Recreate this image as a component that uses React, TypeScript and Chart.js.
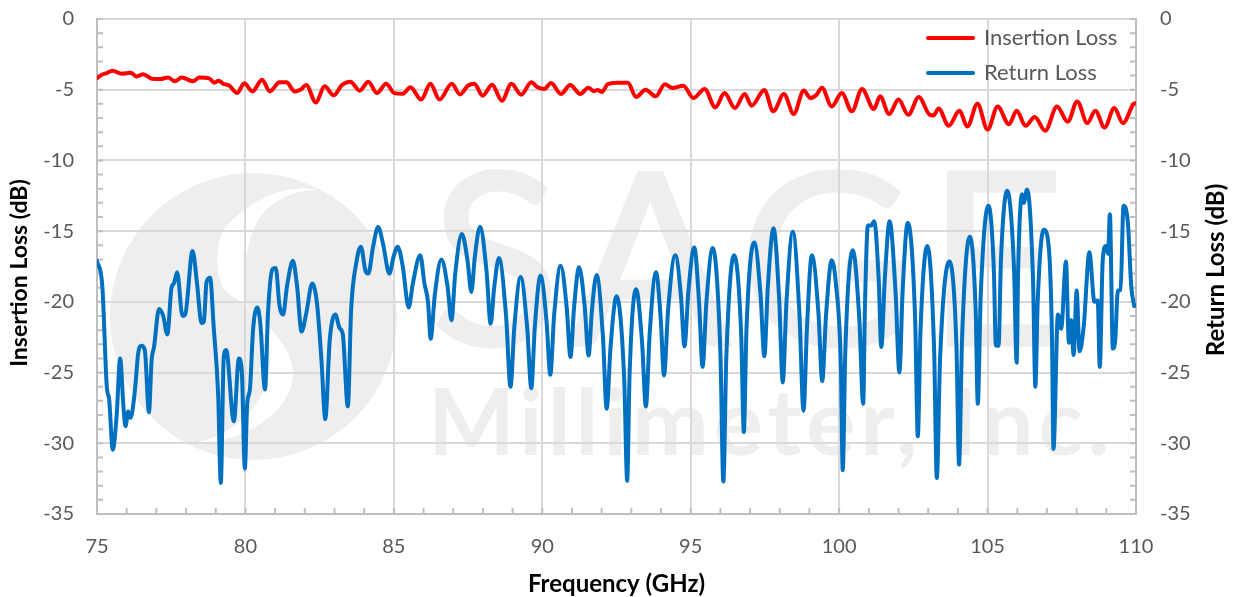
import React, { useEffect, useRef } from "react";
import { Chart, registerables } from "chart.js";

Chart.register(...registerables);

const frequencyTitle = "Frequency (GHz)";
const insertionTitle = "Insertion Loss (dB)";
const returnTitle = "Return Loss (dB)";

const insertionFreq = [
  75.0, 75.16, 75.33, 75.53, 75.83, 76.13, 76.33, 76.56, 76.84, 77.14, 77.4, 77.62, 77.85, 78.24, 78.44, 78.78, 78.95, 79.1, 79.25, 79.45,
  79.72, 79.96, 80.24, 80.56, 80.82, 81.15, 81.38, 81.66, 81.85, 82.05, 82.37, 82.67, 82.97, 83.25, 83.53, 83.85, 84.14, 84.43, 84.74, 85.02,
  85.3, 85.56, 85.92, 86.23, 86.54, 86.95, 87.23, 87.49, 87.71, 87.99, 88.31, 88.64, 88.96, 89.29, 89.63, 89.84, 90.07, 90.29, 90.63, 90.94,
  91.28, 91.55, 91.75, 91.86, 92.01, 92.2, 92.53, 92.88, 93.16, 93.48, 93.82, 94.13, 94.38, 94.75, 95.09, 95.47, 95.83, 96.14, 96.49, 96.82,
  97.05, 97.48, 97.78, 98.14, 98.47, 98.81, 99.03, 99.24, 99.42, 99.75, 100.09, 100.43, 100.77, 101.17, 101.38, 101.68, 102.0, 102.33, 102.68, 103.05,
  103.18, 103.35, 103.69, 104.05, 104.32, 104.66, 105.0, 105.34, 105.72, 105.98, 106.28, 106.59, 106.94, 107.34, 107.7, 108.02, 108.36, 108.63, 108.94, 109.27,
  109.56, 109.92, 110.0,
];
const insertionLoss = [
  -4.17, -3.94, -3.82, -3.66, -3.87, -3.8, -4.06, -3.9, -4.22, -4.25, -4.13, -4.41, -4.13, -4.41, -4.13, -4.2, -4.5, -4.36, -4.58, -4.7,
  -5.24, -4.55, -5.12, -4.29, -5.12, -4.48, -4.48, -5.12, -5.0, -4.67, -5.9, -4.76, -5.4, -4.67, -4.43, -5.07, -4.43, -5.24, -4.58, -5.24,
  -5.28, -4.83, -5.7, -4.58, -5.7, -4.58, -5.33, -4.72, -4.58, -5.42, -4.65, -5.78, -4.58, -5.35, -4.48, -4.83, -4.95, -4.53, -5.3, -4.67,
  -5.3, -4.86, -5.1, -5.02, -5.16, -4.62, -4.5, -4.5, -5.52, -5.0, -5.47, -4.62, -4.88, -4.72, -5.59, -4.95, -6.25, -5.24, -6.3, -5.3,
  -6.13, -5.02, -6.53, -5.3, -6.72, -5.05, -5.59, -5.35, -4.86, -6.18, -5.24, -6.53, -4.95, -6.37, -5.47, -6.72, -5.7, -6.77, -5.52, -6.77,
  -6.82, -6.32, -7.55, -6.49, -7.6, -5.99, -7.83, -6.18, -7.45, -6.49, -7.55, -6.93, -7.9, -6.18, -7.26, -5.83, -7.36, -6.49, -7.67, -6.3,
  -7.36, -6.01, -5.95,
];

const returnFreq = [
  75.0, 75.18, 75.33, 75.41, 75.53, 75.66, 75.78, 75.89, 75.96, 76.05, 76.13, 76.28, 76.39, 76.5, 76.61, 76.75, 76.84, 76.92, 77.09, 77.23,
  77.37, 77.51, 77.59, 77.7, 77.88, 77.97, 78.22, 78.37, 78.52, 78.6, 78.69, 78.81, 78.93, 79.08, 79.17, 79.27, 79.35, 79.61, 79.78, 79.88, 79.98,
  80.06, 80.15, 80.26, 80.4, 80.5, 80.66, 80.76, 80.91, 81.02, 81.15, 81.27, 81.4, 81.6, 81.74, 81.89, 82.05, 82.25, 82.41, 82.56, 82.69,
  82.84, 83.03, 83.17, 83.28, 83.45, 83.56, 83.73, 83.89, 84.05, 84.14, 84.3, 84.47, 84.63, 84.85, 84.99, 85.13, 85.3, 85.5, 85.64, 85.89,
  86.03, 86.15, 86.24, 86.38, 86.6,
  86.81, 86.94, 87.07, 87.29,
  87.48, 87.61, 87.73, 87.9,
  88.12, 88.26, 88.38, 88.54,
  88.78, 88.93, 89.06, 89.27,
  89.49, 89.63, 89.75, 89.94,
  90.14, 90.27, 90.4, 90.62,
  90.82, 90.95, 91.07, 91.24,
  91.43, 91.56, 91.67, 91.83,
  92.04, 92.17, 92.3, 92.5,
  92.76, 92.86, 92.94, 93.16,
  93.36, 93.49, 93.62, 93.83,
  93.99, 94.1, 94.24, 94.48,
  94.67, 94.79, 94.92, 95.12,
  95.28, 95.4, 95.53, 95.74,
  96.0, 96.1, 96.2, 96.46,
  96.7, 96.79, 96.88, 97.14,
  97.35, 97.48, 97.6, 97.79,
  97.98, 98.1, 98.23, 98.44,
  98.66, 98.8, 98.92, 99.08,
  99.3, 99.43, 99.56, 99.75, 99.89,
  100.06, 100.12, 100.21, 100.46,
  100.68, 100.81, 100.87, 100.97, 101.08, 101.18,
  101.33, 101.42, 101.54, 101.7,
  101.9, 102.03, 102.14, 102.31,
  102.56, 102.65, 102.74, 102.97,
  103.2, 103.29, 103.4, 103.71,
  103.95, 104.04, 104.14, 104.4,
  104.6, 104.67, 104.77, 105.03,
  105.21, 105.28, 105.37, 105.45, 105.66,
  105.89, 105.98, 106.03, 106.16, 106.22, 106.33,
  106.53, 106.61, 106.69, 106.89, 107.06,
  107.17, 107.22, 107.37, 107.48, 107.64, 107.74, 107.81, 107.9, 108.0,
  108.1, 108.24, 108.43, 108.6, 108.71, 108.78, 108.88, 108.99, 109.06, 109.12, 109.22, 109.3, 109.39, 109.48, 109.58, 109.73, 109.84, 109.94,
];
const returnLoss = [
  -17.1, -18.9, -26.0, -26.9, -30.45, -28.1, -24.0, -27.4, -28.8, -27.75, -28.2, -26.2, -23.6, -23.1, -23.4, -27.8, -24.1, -23.2, -20.5, -21.0,
  -22.3, -19.0, -18.7, -17.9, -21.0, -20.9, -16.4, -18.7, -21.5, -21.4, -18.6, -18.3, -21.75, -26.5, -32.8, -23.9, -23.4, -28.45, -24.0, -25.0, -31.8,
  -27.2, -26.2, -21.9, -20.4, -21.5, -26.2, -20.8, -17.7, -17.6, -20.3, -20.9, -18.9, -17.1, -18.9, -22.1, -20.8, -18.7, -20.1, -24.1, -28.3,
  -22.7, -20.9, -21.85, -22.3, -27.4, -20.6, -17.3, -16.1, -17.85, -18.0, -16.1, -14.7, -15.85, -18.0, -16.8, -16.1, -17.5, -20.4, -18.7, -16.7,
  -18.7, -20.0, -22.6, -19.5, -17.0,
  -18.93, -21.3, -17.95, -15.2,
  -17.05, -19.3, -16.77, -14.7,
  -17.78, -21.55, -18.99, -16.9,
  -21.0, -26.0, -21.74, -18.25,
  -21.78, -26.1, -21.73, -18.15,
  -21.3, -25.15, -20.92, -17.45,
  -20.35, -23.9, -20.41, -17.55,
  -20.36, -23.8, -20.67, -18.1,
  -22.35, -27.55, -23.18, -19.6,
  -25.47, -32.65, -25.2, -19.1,
  -22.83, -27.4, -22.18, -17.9,
  -21.2, -25.2, -20.53, -16.7,
  -19.55, -23.15, -19.3, -16.15,
  -20.0, -24.6, -19.98, -16.2,
  -23.6, -32.7, -23.9, -16.7,
  -22.3, -29.2, -21.83, -15.8,
  -19.43, -23.85, -18.87, -14.8,
  -19.83, -25.7, -19.84, -15.05,
  -20.74, -27.7, -21.65, -16.7,
  -20.7, -25.6, -20.9, -17.05, -18.7,
  -24.64, -31.9, -23.35, -16.35,
  -21.23, -27.2, -20.27, -14.6, -14.6, -14.3,
  -18.3, -23.2, -18.3, -14.3,
  -19.3, -25.0, -19.17, -14.4,
  -21.2, -29.5, -22.1, -16.05,
  -23.43, -32.45, -24.04, -17.15,
  -22.99, -31.5, -22.65, -15.4,
  -20.7, -27.2, -19.5, -13.2,
  -17.65, -23.1, -23.1, -17.08, -12.15,
  -17.62, -24.3, -17.75, -12.4, -13.0, -12.05,
  -18.33, -26.0, -19.9, -14.9, -16.1,
  -22.5, -30.4, -20.9, -21.9, -17.15, -22.9, -21.3, -23.75, -19.2,
  -23.5, -21.7, -16.5, -20.0, -19.9, -24.6, -17.0, -16.05, -16.6, -13.8, -23.3, -22.7, -19.2, -19.15, -13.2, -14.5, -18.9, -20.3,
];

const FONT = "Lato, Carlito, 'Open Sans', sans-serif";
const TICK = "#595959";
const AXIS = "#BFBFBF";
const GRID = "#D9D9D9";
const MARK = "#EEEEEE";

const watermark = {
  id: "watermark",
  beforeDraw(chart: any) {
    const ctx = chart.ctx;
    ctx.save();
    ctx.fillStyle = MARK;
    ctx.beginPath();
    ctx.arc(253.5, 316.5, 143.5, 0, Math.PI * 2);
    ctx.fill();
    ctx.fillStyle = "#ffffff";
    ctx.beginPath();
    ctx.moveTo(317, 190);
    ctx.bezierCurveTo(290, 183, 250, 198, 223, 230);
    ctx.bezierCurveTo(215, 250, 215, 275, 225, 290);
    ctx.bezierCurveTo(232, 297, 238, 299, 243, 303);
    ctx.bezierCurveTo(270, 325, 293, 350, 293, 373);
    ctx.bezierCurveTo(293, 410, 245, 445, 190, 443);
    ctx.bezierCurveTo(225, 440, 270, 410, 270, 360);
    ctx.bezierCurveTo(270, 340, 258, 320, 246, 303);
    ctx.bezierCurveTo(243, 280, 243, 245, 260, 217);
    ctx.bezierCurveTo(272, 200, 295, 190, 317, 190);
    ctx.fill();
    ctx.fillStyle = MARK;
    ctx.strokeStyle = MARK;
    ctx.lineWidth = 3;
    ctx.textAlign = "left";
    ctx.textBaseline = "alphabetic";
    ctx.font = `240px ${FONT}`;
    (ctx as any).letterSpacing = "12px";
    ctx.fillText("SAGE", 430, 345);
    ctx.strokeText("SAGE", 430, 345);
    ctx.font = `bold 92px ${FONT}`;
    (ctx as any).letterSpacing = "5px";
    ctx.fillText("Millimeter, Inc.", 428, 455);
    ctx.restore();
  },
};

const minorTicks = {
  id: "minorTicks",
  beforeDatasetsDraw(chart: any) {
    const { ctx, chartArea, scales } = chart;
    const len = 6;
    ctx.save();
    ctx.strokeStyle = AXIS;
    ctx.lineWidth = 2;
    ctx.beginPath();
    for (let v = 75; v <= 110; v += 1) {
      const x = scales.x.getPixelForValue(v);
      ctx.moveTo(x, chartArea.bottom);
      ctx.lineTo(x, chartArea.bottom - len);
    }
    for (let v = -35; v <= 0; v += 1) {
      const y = scales.y.getPixelForValue(v);
      ctx.moveTo(chartArea.left, y);
      ctx.lineTo(chartArea.left + len, y);
      ctx.moveTo(chartArea.right, y);
      ctx.lineTo(chartArea.right - len, y);
    }
    ctx.stroke();
    ctx.restore();
  },
};

const sideTitles = {
  id: "sideTitles",
  afterDraw(chart: any) {
    const ctx = chart.ctx;
    const put = (text: string, x: number, y: number, size: number) => {
      ctx.save();
      ctx.translate(x, y);
      ctx.rotate(-Math.PI / 2);
      ctx.font = `bold ${size}px ${FONT}`;
      ctx.fillStyle = "#000";
      ctx.textAlign = "center";
      ctx.textBaseline = "middle";
      ctx.fillText(text, 0, 0);
      ctx.restore();
    };
    put(insertionTitle, 20, 273, 23);
    put(returnTitle, 1216, 270, 24);
  },
};

const legendPlacement = {
  id: "legendPlacement",
  afterLayout(chart: any) {
    const legend = chart.legend;
    if (!legend) return;
    const w = legend.right - legend.left;
    const h = legend.bottom - legend.top;
    legend.left = 915;
    legend.right = 915 + w;
    legend.top = 14;
    legend.bottom = 14 + h;
  },
};

function zip(xs: number[], ys: number[]) {
  return xs.map((x, i) => ({ x, y: ys[i] }));
}

export default function App() {
  const ref = useRef<HTMLCanvasElement>(null);
  useEffect(() => {
    document.body.style.margin = "0";
    const chart = new Chart(ref.current!, {
      type: "line",
      data: {
        datasets: [
          {
            label: "Insertion Loss",
            data: zip(insertionFreq, insertionLoss),
            borderColor: "#FF0000",
            backgroundColor: "#FF0000",
            borderWidth: 4,
            pointRadius: 0,
            pointStyle: "line",
            cubicInterpolationMode: "monotone",
            borderCapStyle: "round",
            borderJoinStyle: "round",
            yAxisID: "y",
          },
          {
            label: "Return Loss",
            data: zip(returnFreq, returnLoss),
            borderColor: "#0070C0",
            backgroundColor: "#0070C0",
            borderWidth: 4,
            pointRadius: 0,
            pointStyle: "line",
            cubicInterpolationMode: "monotone",
            borderCapStyle: "round",
            borderJoinStyle: "round",
            yAxisID: "y2",
          },
        ],
      },
      options: {
        responsive: false,
        animation: false,
        devicePixelRatio: 1,
        layout: { padding: { top: 19, left: 0, right: 0, bottom: 0 } },
        plugins: {
          tooltip: { enabled: false },
          legend: {
            position: "chartArea",
            align: "start",
            labels: {
              usePointStyle: true,
              pointStyleWidth: 45,
              boxHeight: 4,
              padding: 13,
              color: TICK,
              font: { family: FONT, size: 22 },
              generateLabels(c: any) {
                return Chart.defaults.plugins.legend.labels
                  .generateLabels(c)
                  .map((l: any) => ({ ...l, lineCap: "round", lineWidth: 4, pointStyle: "line" }));
              },
            },
          },
        },
        scales: {
          x: {
            type: "linear",
            min: 75,
            max: 110,
            ticks: { stepSize: 5, padding: 21, color: TICK, font: { family: FONT, size: 20 } },
            grid: { color: GRID, lineWidth: 2, drawTicks: false },
            border: { color: AXIS, width: 2 },
            title: { display: true, text: frequencyTitle, color: "#000", padding: { top: 10, bottom: -2 }, font: { family: FONT, size: 24, weight: "bold" } },
            afterFit(s: any) { s.height = 83; },
          },
          y: {
            position: "left",
            min: -35,
            max: 0,
            ticks: { stepSize: 5, padding: 23, color: TICK, font: { family: FONT, size: 20 } },
            grid: { color: GRID, lineWidth: 2, drawTicks: false },
            border: { color: AXIS, width: 2 },
            afterFit(s: any) { s.width = 97; s.paddingTop = 0; s.paddingBottom = 0; },
          },
          y2: {
            position: "right",
            min: -35,
            max: 0,
            ticks: { stepSize: 5, padding: 24, color: TICK, font: { family: FONT, size: 20 } },
            grid: { drawOnChartArea: false, drawTicks: false },
            border: { color: AXIS, width: 2 },
            afterFit(s: any) { s.width = 101; s.paddingTop = 0; s.paddingBottom = 0; },
          },
        },
      } as any,
      plugins: [watermark, minorTicks, sideTitles, legendPlacement],
    });
    return () => chart.destroy();
  }, []);
  return (
    <div style={{ position: "fixed", left: 0, top: 0, width: 1237, height: 597, background: "#fff" }}>
      <canvas ref={ref} width={1237} height={597} style={{ display: "block" }} />
    </div>
  );
}
